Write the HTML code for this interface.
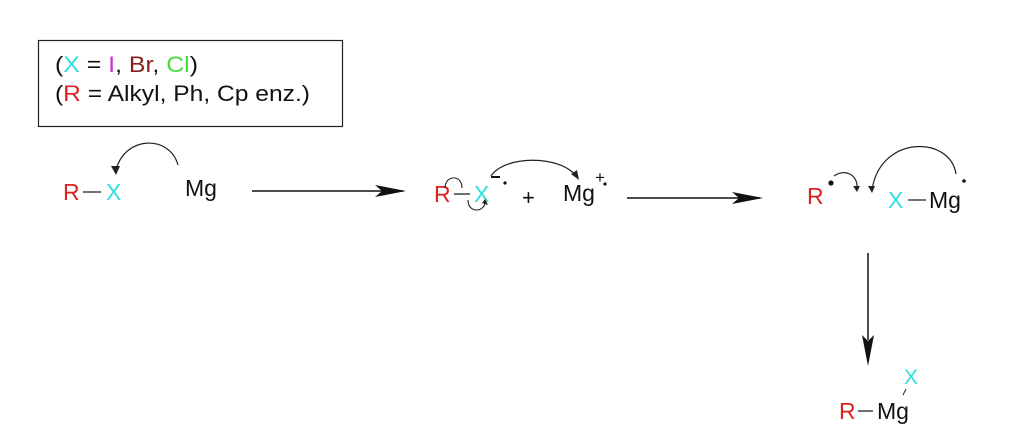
<!DOCTYPE html>
<html><head><style>body{margin:0;background:#fff}svg{display:block}text{font-family:"Liberation Sans",sans-serif}</style></head>
<body>
<svg width="1024" height="446" viewBox="0 0 1024 446" xmlns="http://www.w3.org/2000/svg">
<rect x="38.5" y="40.5" width="304" height="86" fill="none" stroke="#222" stroke-width="1.2"/>
<text x="55" y="72" font-size="22" fill="#111" textLength="143" lengthAdjust="spacingAndGlyphs">(<tspan fill="#3dd">X</tspan> = <tspan fill="#c3c">I</tspan>, <tspan fill="#822">Br</tspan>, <tspan fill="#4d4">Cl</tspan>)</text>
<text x="55" y="101" font-size="22" fill="#111" textLength="255" lengthAdjust="spacingAndGlyphs">(<tspan fill="#d22">R</tspan> = Alkyl, Ph, Cp enz.)</text>

<!-- left -->
<text x="63" y="200" font-size="23" fill="#d22">R</text>
<line x1="83" y1="192" x2="101" y2="192" stroke="#222" stroke-width="1.3"/>
<text x="106" y="200" font-size="23" fill="#3dd">X</text>
<text x="185" y="196" font-size="23" fill="#111">Mg</text>
<path d="M178,165 C170,135 125,135 116,170" fill="none" stroke="#222" stroke-width="1.2"/>
<path d="M111,166 L116,175 L120,166z" fill="#222"/>
<line x1="252" y1="191" x2="403" y2="191" stroke="#111" stroke-width="1.5"/>
<path d="M375,185 L406,191 L375,197 L382,191z" fill="#111"/>

<!-- middle -->
<text x="434" y="202" font-size="23" fill="#d22">R</text>
<line x1="454" y1="194" x2="470" y2="194" stroke="#222" stroke-width="1.3"/>
<text x="474" y="202" font-size="23" fill="#3dd">X</text>
<line x1="491" y1="177" x2="500" y2="177" stroke="#111" stroke-width="2"/>
<circle cx="505" cy="183" r="1.6" fill="#111"/>
<text x="522" y="205" font-size="22" fill="#111">+</text>
<text x="563" y="201" font-size="23" fill="#111">Mg</text>
<text x="595" y="183" font-size="17" fill="#111">+</text>
<circle cx="605" cy="184" r="1.6" fill="#111"/>
<path d="M491,176 C505,155 560,155 576,176" fill="none" stroke="#222" stroke-width="1.2"/>
<path d="M571,174 L579,180 L577,170z" fill="#222"/>
<path d="M445,188 C445,175 462,174 462,188" fill="none" stroke="#222" stroke-width="1.1"/>
<path d="M468,200 C468,214 485,212 485,202" fill="none" stroke="#222" stroke-width="1.1"/>
<path d="M482,203 L485,199 L488,205z" fill="#222"/>
<line x1="627" y1="198" x2="760" y2="198" stroke="#111" stroke-width="1.5"/>
<path d="M732,192 L763,198 L732,204 L739,198z" fill="#111"/>

<!-- right -->
<text x="807" y="204" font-size="23" fill="#d22">R</text>
<circle cx="831" cy="183" r="2.6" fill="#111"/>
<path d="M834,176 C845,168 858,175 857,188" fill="none" stroke="#222" stroke-width="1.2"/>
<path d="M853,186 L857,192 L860,186z" fill="#222"/>
<text x="888" y="208" font-size="23" fill="#3dd">X</text>
<line x1="908" y1="200" x2="926" y2="200" stroke="#222" stroke-width="1.3"/>
<text x="929" y="208" font-size="23" fill="#111">Mg</text>
<circle cx="964" cy="181" r="1.8" fill="#111"/>
<path d="M956,174 C950,135 880,135 872,190" fill="none" stroke="#222" stroke-width="1.2"/>
<path d="M868,186 L872,193 L875,186z" fill="#222"/>
<line x1="868" y1="253" x2="868" y2="340" stroke="#111" stroke-width="1.5"/>
<path d="M862,335 L868,366 L874,335 L868,341z" fill="#111"/>

<!-- bottom -->
<text x="904" y="384" font-size="21" fill="#3dd">X</text>
<line x1="903" y1="395" x2="906" y2="389" stroke="#222" stroke-width="1"/>
<text x="839" y="419" font-size="23" fill="#d22">R</text>
<line x1="858" y1="411" x2="873" y2="411" stroke="#222" stroke-width="1.3"/>
<text x="877" y="419" font-size="23" fill="#111">Mg</text>
</svg>
</body></html>
